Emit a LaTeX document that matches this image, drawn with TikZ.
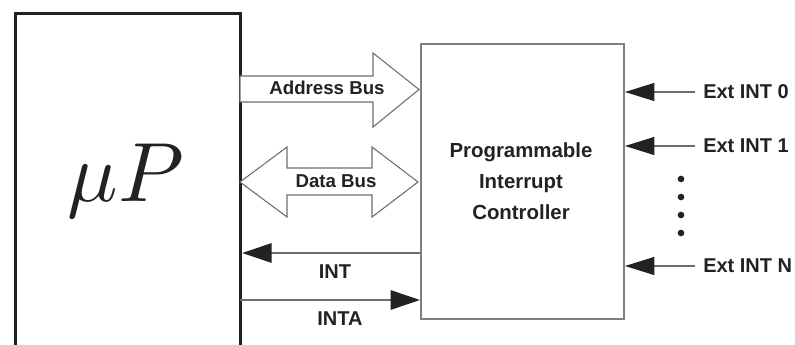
\documentclass[tikz,border=0pt]{standalone}
\usepackage{fontspec}
\setmainfont{Liberation Sans}
\usetikzlibrary{arrows.meta}
\definecolor{txt}{HTML}{222222}
\definecolor{boxgray}{HTML}{808080}
\definecolor{linegray}{HTML}{6E6E6E}
\begin{document}
\begin{tikzpicture}[x=0.75pt,y=-0.75pt,
  lab/.style={font=\fontsize{15}{18}\selectfont\bfseries, text=txt, inner sep=0pt},
  buslab/.style={font=\fontsize{14}{16}\selectfont\bfseries, text=txt, inner sep=0pt},
  busarrow/.style={draw=linegray, line width=0.8pt, fill=white, line join=miter},
  sig/.style={draw=linegray, line width=1.3pt, -{Triangle[length=22pt,width=14.5pt,color=txt,fill=txt]}},
  ext/.style={draw=linegray, line width=0.8pt, -{Triangle[length=22pt,width=13.5pt,color=txt,fill=txt]}},
  dotmark/.style={circle, fill=txt, inner sep=0pt, minimum size=5pt}]
\useasboundingbox (0,0) rectangle (795,345);
% microprocessor box (runs off the bottom of the picture)
\node[draw=txt, line width=2.4pt, minimum width=168.75pt, minimum height=300pt,
      inner sep=0pt, anchor=north west] (mpbox) at (14,12) {};
\node[text=txt, scale=6.3, anchor=base, inner sep=0pt] (mp) at (126,202) {$\mu P$};
% PIC box
\node[draw=boxgray, line width=1.5pt, minimum width=152.25pt, minimum height=206.25pt,
      inner sep=0pt, anchor=north west] (pic) at (420,43) {};
\node[lab, align=center, font=\fontsize{15.3}{23.3}\selectfont\bfseries] (pictext) at (521,181)
  {Programmable\\Interrupt\\Controller};
% Address bus (one-way)
\draw[busarrow] (240,76) -- (373,76) -- (373,53) -- (419,89.5) -- (373,127) -- (373,102) -- (240,102) -- cycle;
\node[buslab, anchor=base] (addr) at (327,95) {Address Bus};
% Data bus (two-way)
\draw[busarrow] (240,182) -- (287,147) -- (287,168) -- (372,168) -- (372,147) -- (418,182)
  -- (372,217) -- (372,195) -- (287,195) -- (287,217) -- cycle;
\node[buslab, anchor=base] (data) at (336,188) {Data Bus};
% INT and INTA
\coordinate (intS) at (420,253);
\coordinate (intaS) at (240,300);
\draw[sig] (intS) -- (mpbox.east |- intS);
\node[lab, anchor=base] (int) at (335,278) {INT};
\draw[sig] (intaS) -- (pic.west |- intaS);
\node[lab, anchor=base] (inta) at (340,325) {INTA};
% External interrupt inputs
\node[lab, anchor=west] (e0) at (703,92) {Ext INT 0};
\node[lab, anchor=west] (e1) at (703,146) {Ext INT 1};
\node[lab, anchor=west] (eN) at (703,266) {Ext INT N};
\draw[ext] ([xshift=-6pt]e0.west) -- (pic.east |- e0.west);
\draw[ext] ([xshift=-6pt]e1.west) -- (pic.east |- e1.west);
\draw[ext] ([xshift=-6pt]eN.west) -- (pic.east |- eN.west);
\node[dotmark] (d1) at (681,179) {};
\node[dotmark] (d2) at (681,197) {};
\node[dotmark] (d3) at (681,215) {};
\node[dotmark] (d4) at (681,233) {};
\end{tikzpicture}
\end{document}
